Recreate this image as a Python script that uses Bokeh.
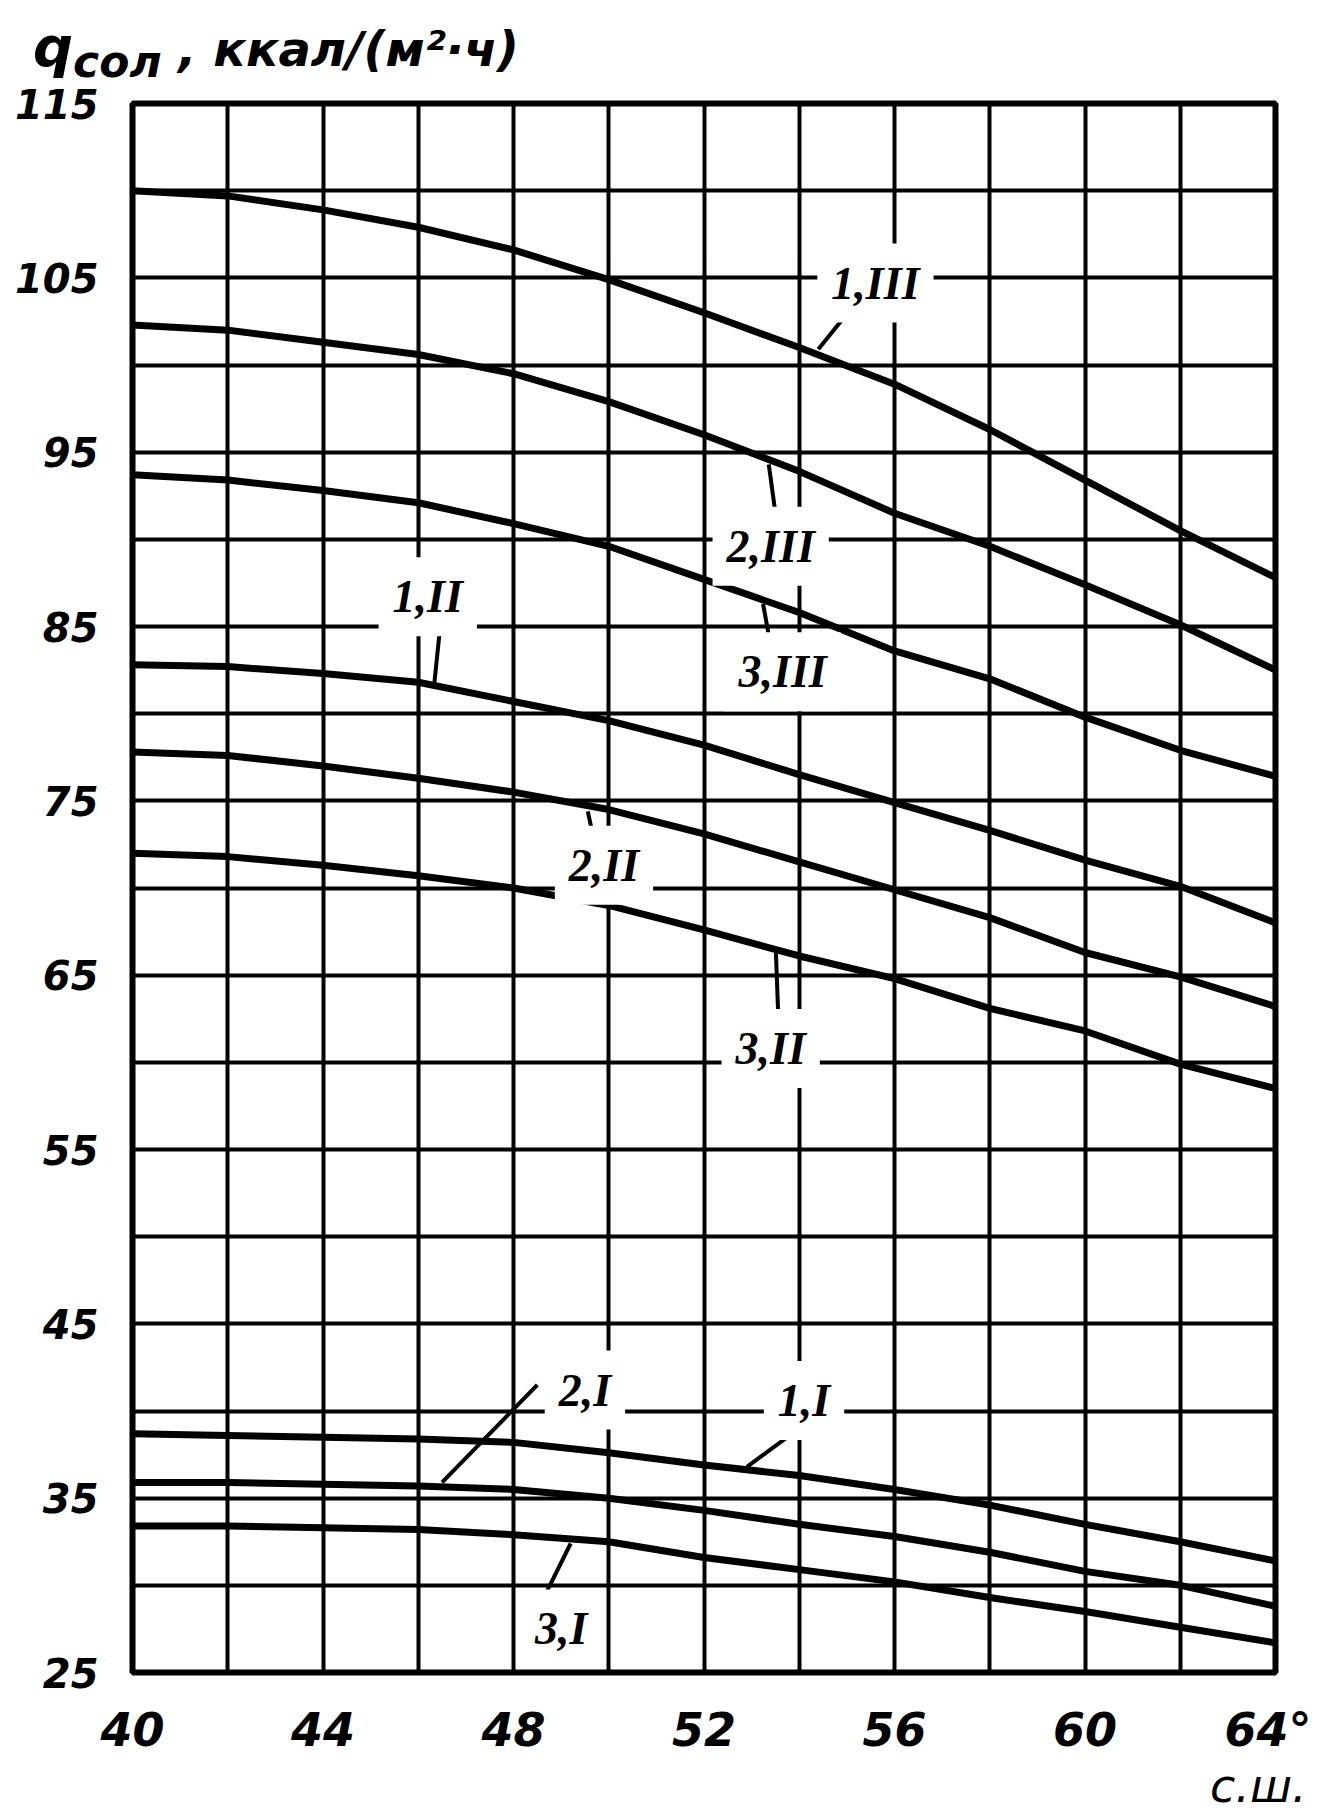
from bokeh.plotting import figure
from bokeh.models import Label, FixedTicker, Range1d, ColumnDataSource, Div
from bokeh.layouts import column
from bokeh.embed import file_html
from bokeh.resources import INLINE

# ---- data -------------------------------------------------------------
lat = [40, 42, 44, 46, 48, 50, 52, 54, 56, 58, 60, 62, 64]

q_1_III = [110.0, 109.7, 108.9, 107.9, 106.6, 104.9, 103.0, 101.0, 98.9, 96.3, 93.4, 90.5, 87.8]
q_2_III = [102.3, 102.0, 101.3, 100.6, 99.5, 97.9, 96.0, 93.9, 91.5, 89.6, 87.4, 85.1, 82.5]
q_3_III = [93.7, 93.4, 92.8, 92.1, 90.9, 89.6, 87.7, 85.8, 83.6, 82.0, 79.8, 77.9, 76.4]
q_1_II = [82.8, 82.7, 82.3, 81.8, 80.7, 79.6, 78.2, 76.5, 74.9, 73.3, 71.6, 70.1, 68.0]
q_2_II = [77.8, 77.6, 77.0, 76.3, 75.5, 74.5, 73.1, 71.5, 69.9, 68.3, 66.3, 64.9, 63.2]
q_3_II = [72.0, 71.8, 71.3, 70.7, 70.0, 69.0, 67.6, 66.1, 64.8, 63.1, 61.8, 59.9, 58.5]
q_1_I = [38.7, 38.6, 38.5, 38.4, 38.2, 37.6, 36.9, 36.3, 35.5, 34.6, 33.5, 32.5, 31.4]
q_2_I = [35.9, 35.9, 35.8, 35.7, 35.5, 35.0, 34.3, 33.5, 32.8, 31.9, 30.8, 30.0, 28.8]
q_3_I = [33.4, 33.4, 33.3, 33.2, 32.9, 32.5, 31.6, 30.9, 30.2, 29.3, 28.5, 27.6, 26.7]

series = [q_1_III, q_2_III, q_3_III, q_1_II, q_2_II, q_3_II, q_1_I, q_2_I, q_3_I]
curve_names = ["1,III", "2,III", "3,III", "1,II", "2,II", "3,II", "1,I", "2,I", "3,I"]

x_ticks = [40, 44, 48, 52, 56, 60, 64]
x_tick_text = {64: "64°"}
y_ticks = [25, 35, 45, 55, 65, 75, 85, 95, 105, 115]

title_q = "q"
title_sub = "сол"
title_rest = ", ккал/(м²·ч)"
x_title = "с.ш."

# ---- annotation layout (label centres and leader lines, data units) ----
label_pos = {
    "1,III": (55.6, 104.7),
    "2,III": (53.4, 89.6),
    "3,III": (53.65, 82.4),
    "1,II": (46.2, 86.7),
    "2,II": (49.9, 71.3),
    "3,II": (53.4, 60.8),
    "2,I": (49.5, 41.2),
    "1,I": (54.1, 40.6),
    "3,I": (49.0, 27.5),
}
leaders = [
    (54.9, 102.6, 54.4, 100.9),
    (53.5, 91.5, 53.36, 94.3),
    (53.42, 83.6, 53.24, 86.3),
    (46.48, 85.5, 46.34, 81.8),
    (49.56, 74.4, 49.7, 72.6),
    (53.56, 62.6, 53.51, 66.3),
    (48.5, 41.5, 46.5, 35.9),
    (54.0, 39.0, 52.9, 36.8),
    (49.2, 32.4, 48.6, 29.1),
]

INK = "#000000"
FONT = "DejaVu Sans"
W = 1311

# ---- top strip: axis title (HTML text, allows a true subscript) --------
top_html = (
    '<div style="margin:20px 0 0 33px; font-family:\'DejaVu Sans\'; font-weight:bold; '
    'font-style:italic; color:#000; white-space:nowrap; line-height:54px;">'
    f'<span style="font-size:56px">{title_q}</span>'
    f'<span style="font-size:44px; position:relative; top:11px;">{title_sub}</span>'
    f'<span style="font-size:48px"> {title_rest}</span></div>'
)
top = Div(text=top_html, width=W, height=79, margin=(0, 0, 0, 0))

# ---- main chart --------------------------------------------------------
p = figure(frame_width=1143, frame_height=1569, output_backend="svg", toolbar_location=None,
           x_range=Range1d(40, 64), y_range=Range1d(25, 115),
           min_border_left=132, min_border_right=36, min_border_top=24, min_border_bottom=98)
p.background_fill_color = "white"
p.border_fill_color = "white"
p.outline_line_color = INK
p.outline_line_width = 6

p.xgrid.ticker = FixedTicker(ticks=list(range(40, 65, 2)))
p.ygrid.ticker = FixedTicker(ticks=list(range(25, 116, 5)))
for g in (p.xgrid, p.ygrid):
    g.grid_line_color = INK
    g.grid_line_width = 4
    g.grid_line_alpha = 1.0

p.xaxis.ticker = FixedTicker(ticks=x_ticks)
p.xaxis.major_label_overrides = x_tick_text
p.yaxis.ticker = FixedTicker(ticks=y_ticks)
for ax in (p.xaxis, p.yaxis):
    ax.axis_line_color = None
    ax.major_tick_line_color = None
    ax.minor_tick_line_color = None
    ax.major_tick_in = 0
    ax.major_tick_out = 0
    ax.major_label_text_font = FONT
    ax.major_label_text_color = INK
    ax.major_label_text_font_style = "bold italic"
p.xaxis.major_label_text_font_size = "46px"
p.yaxis.major_label_text_font_size = "40px"
p.xaxis.major_label_standoff = 30
p.yaxis.major_label_standoff = 34

for ys in series:
    p.line(lat, ys, line_color=INK, line_width=7, line_join="round", line_cap="round")

for name in curve_names:
    x, y = label_pos[name]
    p.add_layout(Label(x=x, y=y, text=name, text_align="center", text_baseline="middle",
                       text_font="Liberation Serif", text_font_style="bold italic",
                       text_font_size="46px", text_color=INK,
                       background_fill_color="white", background_fill_alpha=1.0,
                       padding=14))

src = ColumnDataSource(dict(x0=[l[0] for l in leaders], y0=[l[1] for l in leaders],
                            x1=[l[2] for l in leaders], y1=[l[3] for l in leaders]))
p.segment("x0", "y0", "x1", "y1", source=src, line_color=INK, line_width=4)

# ---- bottom strip: x-axis title ----------------------------------------
bottom_html = (
    '<div style="margin:-6px 0 0 1210px; font-family:\'DejaVu Sans\'; font-style:italic; '
    f'font-size:46px; line-height:44px; color:#000; white-space:nowrap;">{x_title}</div>'
)
bottom = Div(text=bottom_html, width=W, height=40, margin=(0, 0, 0, 0))

layout = column(top, p, bottom, spacing=0)
open("out.html", "w").write(file_html(layout, INLINE))
